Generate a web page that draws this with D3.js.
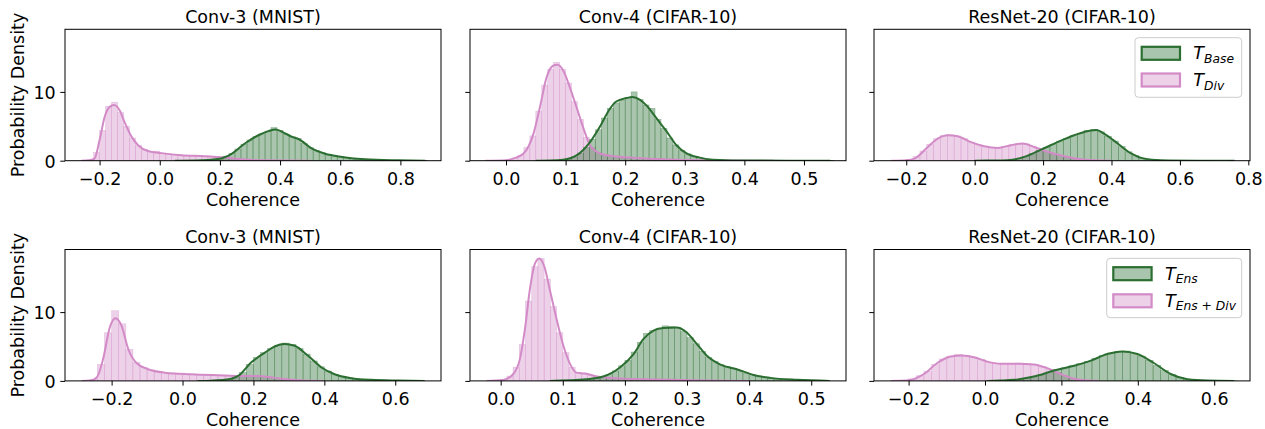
<!DOCTYPE html>
<html>
<head>
<meta charset="utf-8">
<script src="https://cdn.jsdelivr.net/npm/d3@7"></script>
<style>
  body { margin: 0; background: #fff; }
  svg { display: block; }
  text { font-family: "DejaVu Sans", sans-serif; fill: #000; }
</style>
</head>
<body>
<div id="chart"></div>
<script>
// ---- data ----
const titles = ["Conv-3 (MNIST)", "Conv-4 (CIFAR-10)", "ResNet-20 (CIFAR-10)"];
const legendRow1 = ["Base", "Div"];
const legendRow2 = ["Ens", "Ens+Div"];
const yTicks = [0, 10];
const yMax = 19.1;

// x limits and ticks, panels A..F (top row A B C, bottom row D E F)
const xLimits = [[-0.315, 0.935], [-0.0604, 0.5705], [-0.2943, 0.8049],
                 [-0.3315, 0.729], [-0.0494, 0.556], [-0.2906, 0.6937]];
const xTicks = [[-0.2, 0, 0.2, 0.4, 0.6, 0.8], [0, 0.1, 0.2, 0.3, 0.4, 0.5], [-0.2, 0, 0.2, 0.4, 0.6, 0.8],
                [-0.2, 0, 0.2, 0.4, 0.6], [0, 0.1, 0.2, 0.3, 0.4, 0.5], [-0.2, 0, 0.2, 0.4, 0.6]];

// histograms: first bin edge, bin width, densities
const greenHistA = { start: 0.05, width: 0.02, heights: [0.01,0.01,0.02,0.03,0.05,0.1,0.18,0.35,0.65,1.05,1.7,2.4,3.0,3.5,3.9,4.3,4.8,4.4,3.85,3.5,3.2,2.5,1.9,1.5,1.15,0.9,0.75,0.6,0.48,0.38,0.28,0.21,0.16,0.12,0.09,0.07,0.05,0.04,0.03,0.02,0.01,0.01] };
const pinkHistA = { start: -0.26, width: 0.02, heights: [0.02,0.1,1.2,4.4,7.9,8.5,7.0,5.0,3.3,2.2,1.6,1.3,1.4,1.08,1.0,0.9,0.82,0.76,0.72,0.68,0.65,0.6,0.53,0.47,0.4,0.3,0.21,0.14,0.09,0.05,0.03,0.02,0.01,0.01,0.01] };
const greenHistB = { start: 0.05, width: 0.01, heights: [0.01,0.02,0.03,0.06,0.12,0.25,0.55,1.1,1.9,3.1,4.5,6.2,7.6,8.4,8.8,9.2,10.0,8.9,8.1,7.6,6.0,4.7,3.3,2.3,1.5,1.0,0.65,0.45,0.3,0.18,0.12,0.08,0.06,0.04,0.03,0.02,0.02,0.01,0.01,0.01,0.01,0.01,0.01,0.01,0.005,0.005,0.005,0.005,0.005,0.005] };
const pinkHistB = { start: -0.03, width: 0.01, heights: [0.01,0.02,0.05,0.15,0.4,0.8,1.9,3.6,7.2,11.0,13.3,14.3,13.3,11.3,8.6,6.0,3.4,1.9,1.2,0.9,0.72,0.62,0.52,0.47,0.42,0.37,0.33,0.3,0.26,0.22,0.18,0.15,0.13,0.11,0.09,0.07,0.06,0.05,0.04,0.03,0.03,0.02,0.02,0.01,0.01,0.01,0,0] };
const greenHistC = { start: 0.0, width: 0.02, heights: [0.01,0.01,0.02,0.04,0.07,0.15,0.35,0.6,1.0,1.5,1.95,2.4,2.85,3.25,3.65,4.0,4.4,4.55,4.2,3.55,2.85,2.05,1.3,0.75,0.4,0.2,0.1,0.06,0.04,0.03,0.02,0.02,0.01,0.01,0.01,0,0,0.01] };
const pinkHistC = { start: -0.24, width: 0.02, heights: [0.02,0.06,0.2,0.6,1.4,2.4,3.2,3.7,3.75,3.6,3.2,2.7,2.35,2.1,1.95,1.9,2.05,2.3,2.5,2.45,2.1,1.7,1.35,1.0,0.75,0.52,0.33,0.2,0.1,0.05,0.02,0.01] };
const greenHistD = { start: 0.04, width: 0.02, heights: [0.01,0.03,0.05,0.1,0.25,0.5,1.2,2.4,3.4,4.1,4.7,5.2,5.5,5.3,4.7,3.9,2.9,2.05,1.45,0.95,0.65,0.45,0.3,0.21,0.15,0.11,0.08,0.06,0.04,0.03,0.02,0.01] };
const pinkHistD = { start: -0.28, width: 0.02, heights: [0.02,0.25,2.4,7.0,10.2,8.3,4.6,2.7,1.95,1.6,1.4,1.25,1.15,1.08,1.0,0.96,0.92,0.88,0.84,0.8,0.76,0.74,0.73,0.74,0.74,0.65,0.5,0.35,0.22,0.12,0.05,0.02,0.01,0] };
const greenHistE = { start: 0.08, width: 0.01, heights: [0.01,0.02,0.04,0.07,0.12,0.2,0.3,0.42,0.6,0.95,1.45,2.2,3.0,4.2,5.6,6.9,7.3,7.6,8.0,7.9,7.8,7.2,6.3,5.4,4.3,3.4,2.8,2.35,2.1,1.8,1.5,1.15,0.9,0.7,0.52,0.4,0.3,0.22,0.17,0.13,0.1,0.07,0.05,0.03,0.02] };
const pinkHistE = { start: -0.02, width: 0.01, heights: [0.01,0.04,0.2,0.7,2.0,5.3,11.6,16.6,17.8,14.8,10.8,7.0,4.1,2.0,1.2,1.1,0.85,0.65,0.52,0.44,0.38,0.33,0.3,0.27,0.24,0.22,0.2,0.18,0.15,0.13,0.11,0.1,0.08,0.07,0.05,0.04,0.03,0.02,0.02,0.01,0.01,0] };
const greenHistF = { start: 0.0, width: 0.02, heights: [0.01,0.03,0.06,0.12,0.22,0.38,0.6,0.9,1.25,1.65,1.9,2.2,2.5,2.85,3.25,3.7,4.05,4.3,4.35,4.0,3.6,3.0,2.25,1.5,0.9,0.5,0.25,0.12,0.06,0.03,0.02,0.01,0.01] };
const pinkHistF = { start: -0.24, width: 0.02, heights: [0.02,0.08,0.3,0.75,1.4,2.4,3.2,3.6,3.85,3.7,3.45,3.1,2.7,2.55,2.5,2.45,2.6,2.5,2.4,2.1,1.7,1.2,0.7,0.35,0.12,0.04,0.01] };

// kde curves: [coherence, density]
const greenKdeA = [[0.05,0],[0.12,0.03],[0.194,0.25],[0.239,1.0],[0.283,2.5],[0.328,3.7],[0.361,4.3],[0.386,4.55],[0.417,3.95],[0.444,3.4],[0.461,3.15],[0.506,1.75],[0.55,1.0],[0.606,0.55],[0.683,0.2],[0.79,0.05],[0.883,0]];
const pinkKdeA = [[-0.261,0],[-0.235,0.05],[-0.217,0.3],[-0.2,3.0],[-0.183,6.4],[-0.167,7.8],[-0.152,8.1],[-0.133,7.3],[-0.117,5.6],[-0.094,3.5],[-0.072,2.25],[-0.039,1.4],[0.006,1.1],[0.072,0.8],[0.15,0.65],[0.217,0.45],[0.272,0.2],[0.33,0.05],[0.5,0]];
const greenKdeB = [[0.05,0],[0.075,0.03],[0.096,0.15],[0.119,0.8],[0.141,2.7],[0.158,5.0],[0.174,7.5],[0.185,8.6],[0.202,9.1],[0.212,9.25],[0.225,8.85],[0.236,8.0],[0.253,6.1],[0.27,4.2],[0.286,2.25],[0.303,1.05],[0.325,0.45],[0.348,0.15],[0.41,0.02],[0.544,0]];
const pinkKdeB = [[-0.035,0],[0.0,0.08],[0.012,0.3],[0.029,1.0],[0.046,3.9],[0.057,7.8],[0.068,12.1],[0.079,13.8],[0.086,13.95],[0.096,13.1],[0.107,10.7],[0.119,7.6],[0.13,4.7],[0.141,2.25],[0.158,1.05],[0.18,0.65],[0.208,0.45],[0.242,0.3],[0.286,0.15],[0.35,0.05],[0.45,0]];
const greenKdeC = [[0.0,0],[0.05,0.02],[0.096,0.07],[0.145,0.55],[0.194,1.6],[0.242,2.7],[0.291,3.7],[0.34,4.4],[0.355,4.45],[0.379,3.9],[0.418,2.5],[0.457,1.05],[0.495,0.3],[0.544,0.07],[0.65,0.01],[0.76,0]];
const pinkKdeC = [[-0.244,0],[-0.2,0.08],[-0.176,0.3],[-0.137,2.0],[-0.108,3.2],[-0.079,3.7],[-0.05,3.55],[-0.011,2.7],[0.028,2.1],[0.067,1.86],[0.106,2.25],[0.14,2.5],[0.174,2.0],[0.213,1.3],[0.262,0.65],[0.31,0.2],[0.37,0.02],[0.4,0]];
const greenKdeD = [[0.043,0],[0.08,0.04],[0.119,0.15],[0.157,0.73],[0.194,2.7],[0.232,4.1],[0.26,5.0],[0.288,5.35],[0.316,5.1],[0.354,3.65],[0.392,1.95],[0.429,0.97],[0.476,0.4],[0.532,0.15],[0.607,0.05],[0.683,0]];
const pinkKdeD = [[-0.285,0],[-0.26,0.05],[-0.242,0.5],[-0.224,3.2],[-0.205,7.8],[-0.189,9.1],[-0.172,8.0],[-0.153,4.6],[-0.13,2.6],[-0.097,1.7],[-0.05,1.2],[0.025,0.97],[0.1,0.83],[0.166,0.73],[0.213,0.73],[0.26,0.44],[0.307,0.15],[0.35,0.02],[0.4,0]];
const greenKdeE = [[0.079,0],[0.138,0.24],[0.165,0.63],[0.192,1.95],[0.214,3.9],[0.23,6.1],[0.246,7.3],[0.262,7.7],[0.283,7.75],[0.3,7.0],[0.316,5.35],[0.332,3.65],[0.353,2.4],[0.38,1.7],[0.407,0.87],[0.434,0.44],[0.477,0.15],[0.53,0]];
const pinkKdeE = [[-0.023,0],[0.004,0.15],[0.02,0.97],[0.031,3.2],[0.039,7.5],[0.047,13.3],[0.055,17.0],[0.062,17.8],[0.07,16.7],[0.079,13.3],[0.09,9.0],[0.101,5.1],[0.112,2.4],[0.122,1.2],[0.136,1.07],[0.155,0.63],[0.192,0.34],[0.246,0.2],[0.33,0.05],[0.4,0]];
const greenKdeF = [[0.006,0],[0.04,0.05],[0.076,0.15],[0.128,0.63],[0.181,1.5],[0.233,2.2],[0.277,2.95],[0.32,3.9],[0.359,4.27],[0.399,3.9],[0.442,2.6],[0.486,1.0],[0.53,0.24],[0.582,0.05],[0.652,0]];
const pinkKdeF = [[-0.247,0],[-0.22,0.03],[-0.195,0.15],[-0.16,1.0],[-0.125,2.6],[-0.09,3.55],[-0.059,3.7],[-0.029,3.45],[0.006,2.8],[0.041,2.5],[0.085,2.5],[0.128,2.4],[0.163,1.85],[0.198,1.0],[0.233,0.3],[0.268,0.05],[0.3,0]];

const greenHists = [greenHistA, greenHistB, greenHistC, greenHistD, greenHistE, greenHistF];
const pinkHists = [pinkHistA, pinkHistB, pinkHistC, pinkHistD, pinkHistE, pinkHistF];
const greenKdes = [greenKdeA, greenKdeB, greenKdeC, greenKdeD, greenKdeE, greenKdeF];
const pinkKdes = [pinkKdeA, pinkKdeB, pinkKdeC, pinkKdeD, pinkKdeE, pinkKdeF];

// ---- layout ----
const width = 1265, height = 429;
const colLeft = [65, 470, 874];
const rowTop = [29.3, 249.5];
const panelW = 376, panelH = 131.4;
const green = "#2b6e31", pink = "#d38bc7";
const fontSize = 17.5;

const svg = d3.select("#chart").append("svg")
    .attr("width", width)
    .attr("height", height);

const line = (x, y) => d3.line().x(d => x(d[0])).y(d => y(d[1])).curve(d3.curveMonotoneX);

function drawHist(g, x, y, hist, color) {
    g.selectAll(null)
        .data(hist.heights)
        .join("rect")
        .attr("x", (d, i) => x(hist.start + i * hist.width))
        .attr("width", (d, i) => x(hist.start + (i + 1) * hist.width) - x(hist.start + i * hist.width))
        .attr("y", d => y(d))
        .attr("height", d => y(0) - y(d))
        .attr("fill", color)
        .attr("fill-opacity", 0.4)
        .attr("stroke", color)
        .attr("stroke-opacity", 0.45)
        .attr("stroke-width", 0.6);
}

for (let p = 0; p < 6; p++) {
    const row = Math.floor(p / 3), col = p % 3;
    const left = colLeft[col], top = rowTop[row];

    const x = d3.scaleLinear().domain(xLimits[p]).range([left, left + panelW]);
    const y = d3.scaleLinear().domain([0, yMax]).range([top + panelH, top]);

    const g = svg.append("g");
    const clipId = "clip" + p;
    g.append("clipPath").attr("id", clipId)
        .append("rect").attr("x", left).attr("y", top).attr("width", panelW).attr("height", panelH);
    const plot = g.append("g").attr("clip-path", `url(#${clipId})`);

    // bars: pink layer under green, then the kde lines
    drawHist(plot, x, y, pinkHists[p], pink);
    drawHist(plot, x, y, greenHists[p], green);
    plot.append("path").datum(pinkKdes[p])
        .attr("d", line(x, y)).attr("fill", "none")
        .attr("stroke", pink).attr("stroke-width", 2);
    plot.append("path").datum(greenKdes[p])
        .attr("d", line(x, y)).attr("fill", "none")
        .attr("stroke", green).attr("stroke-width", 2);

    // axes
    const xAxis = g.append("g")
        .attr("transform", `translate(0,${top + panelH})`)
        .call(d3.axisBottom(x).tickValues(xTicks[p]).tickFormat(d3.format(".1f"))
            .tickSize(4.7).tickSizeOuter(0).tickPadding(7));
    const yAxis = g.append("g")
        .attr("transform", `translate(${left},0)`)
        .call(d3.axisLeft(y).tickValues(yTicks).tickFormat(col === 0 ? d3.format("d") : () => "")
            .tickSize(4.7).tickSizeOuter(0).tickPadding(4.6));
    [xAxis, yAxis].forEach(a => {
        a.select(".domain").remove();
        a.selectAll(".tick line").attr("stroke", "#000").attr("stroke-width", 1);
        a.selectAll("text").attr("font-size", fontSize).attr("font-family", "DejaVu Sans").attr("fill", "#000");
    });
    yAxis.selectAll("text").attr("dy", "0.36em");

    // frame
    g.append("rect")
        .attr("x", left).attr("y", top).attr("width", panelW).attr("height", panelH)
        .attr("fill", "none").attr("stroke", "#000").attr("stroke-width", 1);

    // title and axis labels
    g.append("text")
        .attr("x", left + panelW / 2).attr("y", top - 6.6)
        .attr("text-anchor", "middle").attr("font-size", fontSize)
        .text(titles[col]);
    g.append("text")
        .attr("x", left + panelW / 2).attr("y", top + panelH + 45)
        .attr("text-anchor", "middle").attr("font-size", fontSize)
        .text("Coherence");
    if (col === 0) {
        g.append("text")
            .attr("transform", `translate(24,${top + panelH / 2}) rotate(-90)`)
            .attr("text-anchor", "middle").attr("font-size", fontSize)
            .text("Probability Density");
    }

    // legend in the right-hand panel of each row
    if (col === 2) {
        const labels = row === 0 ? legendRow1 : legendRow2;
        const box = row === 0
            ? { x: 1135, y: 37.7, w: 106.7, h: 59.6, px: 1141.7, tx: 1193.3, cy: [53.3, 80] }
            : { x: 1106.7, y: 258.3, w: 135, h: 59.4, px: 1113.3, tx: 1165, cy: [273.7, 300.8] };
        const lg = g.append("g");
        lg.append("rect")
            .attr("x", box.x).attr("y", box.y).attr("width", box.w).attr("height", box.h)
            .attr("rx", 3.5).attr("fill", "#fff").attr("fill-opacity", 0.8)
            .attr("stroke", "#cccccc").attr("stroke-width", 1);
        [green, pink].forEach((c, i) => {
            lg.append("rect")
                .attr("x", box.px).attr("y", box.cy[i] - 6.5).attr("width", 38.3).attr("height", 13)
                .attr("fill", c).attr("fill-opacity", 0.4)
                .attr("stroke", c).attr("stroke-width", 2.2);
            const t = lg.append("text")
                .attr("x", box.tx).attr("y", box.cy[i] + 6).attr("font-size", fontSize);
            t.append("tspan").attr("font-style", "italic").text("T");
            const parts = labels[i].split("+");
            parts.forEach((s, k) => {
                if (k > 0) {
                    t.append("tspan").attr("font-size", 12.3).text(" + ")
                        .attr("dy", 0);
                }
                const ts = t.append("tspan").attr("font-size", 12.3).attr("font-style", "italic").text(s);
                if (k === 0) ts.attr("dy", 3.6);
            });
        });
    }
}
</script>
</body>
</html>
